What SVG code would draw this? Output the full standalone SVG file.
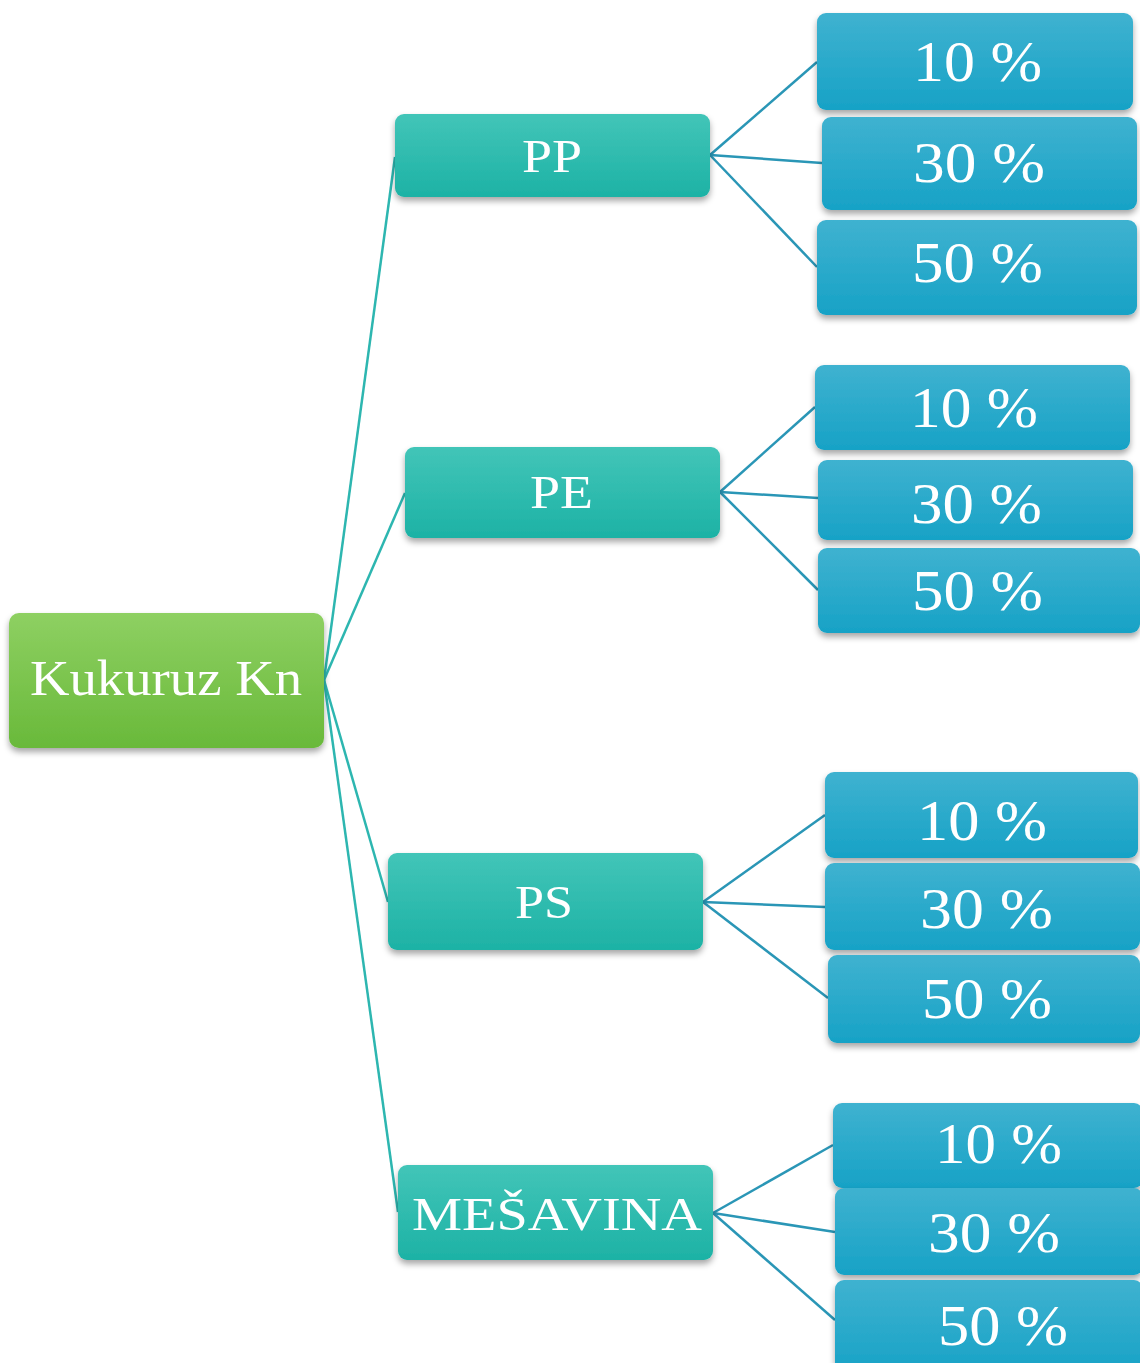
<svg xmlns="http://www.w3.org/2000/svg" width="1140" height="1363" viewBox="0 0 1140 1363">
<style>
.t{font-family:"Liberation Serif","Times New Roman",serif;fill:#ffffff;}
.root{font-size:50px;}
.mid{font-size:47px;}
.leaf{font-size:57px;}
.c1{stroke:#2db6b0;stroke-width:2.5;fill:none;}
.c2{stroke:#2a96b6;stroke-width:2.5;fill:none;}
</style>
<defs>
<linearGradient id="gGreen" x1="0" y1="0" x2="0" y2="1">
<stop offset="0" stop-color="#8ed062"/>
<stop offset="1" stop-color="#69b93a"/>
</linearGradient>
<linearGradient id="gTeal" x1="0" y1="0" x2="0" y2="1">
<stop offset="0" stop-color="#42c5b8"/>
<stop offset="1" stop-color="#1db2a5"/>
</linearGradient>
<linearGradient id="gBlue" x1="0" y1="0" x2="0" y2="1">
<stop offset="0" stop-color="#3fb2d0"/>
<stop offset="1" stop-color="#17a2c6"/>
</linearGradient>
<filter id="sh" x="-10%" y="-20%" width="120%" height="150%">
<feDropShadow dx="0" dy="4" stdDeviation="3" flood-color="#000" flood-opacity="0.35"/>
</filter>
</defs>
<rect width="1140" height="1363" fill="#ffffff"/>
<g id="connectors">
<line class="c1" x1="324" y1="680" x2="395" y2="157"/>
<line class="c1" x1="324" y1="680" x2="405" y2="493"/>
<line class="c1" x1="324" y1="680" x2="388" y2="902"/>
<line class="c1" x1="324" y1="680" x2="398" y2="1212"/>
<line class="c2" x1="710" y1="155" x2="817" y2="62"/>
<line class="c2" x1="710" y1="155" x2="822" y2="163"/>
<line class="c2" x1="710" y1="155" x2="817" y2="267"/>
<line class="c2" x1="720" y1="492" x2="815" y2="407"/>
<line class="c2" x1="720" y1="492" x2="818" y2="498"/>
<line class="c2" x1="720" y1="492" x2="818" y2="590"/>
<line class="c2" x1="703" y1="902" x2="825" y2="815"/>
<line class="c2" x1="703" y1="902" x2="825" y2="907"/>
<line class="c2" x1="703" y1="902" x2="828" y2="998"/>
<line class="c2" x1="713" y1="1213" x2="833" y2="1145"/>
<line class="c2" x1="713" y1="1213" x2="835" y2="1232"/>
<line class="c2" x1="713" y1="1213" x2="835" y2="1320"/>
</g>
<g id="root">
<rect x="9" y="613" width="315" height="135" rx="10" fill="url(#gGreen)" filter="url(#sh)"/>
<text class="t root" x="30" y="695" textLength="272" lengthAdjust="spacingAndGlyphs">Kukuruz Kn</text>
</g>
<g id="pp">
<rect x="395" y="114" width="315" height="83" rx="9" fill="url(#gTeal)" filter="url(#sh)"/>
<text class="t mid" x="522" y="172" textLength="60" lengthAdjust="spacingAndGlyphs">PP</text>
</g>
<g id="pe">
<rect x="405" y="447" width="315" height="91" rx="9" fill="url(#gTeal)" filter="url(#sh)"/>
<text class="t mid" x="530" y="508" textLength="63" lengthAdjust="spacingAndGlyphs">PE</text>
</g>
<g id="ps">
<rect x="388" y="853" width="315" height="97" rx="9" fill="url(#gTeal)" filter="url(#sh)"/>
<text class="t mid" x="515" y="918" textLength="58" lengthAdjust="spacingAndGlyphs">PS</text>
</g>
<g id="mesavina">
<rect x="398" y="1165" width="315" height="95" rx="9" fill="url(#gTeal)" filter="url(#sh)"/>
<text class="t mid" x="412" y="1230" font-size="50" textLength="290" lengthAdjust="spacingAndGlyphs">MEŠAVINA</text>
</g>
<g id="pp-10">
<rect x="817" y="13" width="316" height="97" rx="9" fill="url(#gBlue)" filter="url(#sh)"/>
<text class="t leaf" x="913" y="81" textLength="129" lengthAdjust="spacingAndGlyphs">10 %</text>
</g>
<g id="pp-30">
<rect x="822" y="117" width="315" height="93" rx="9" fill="url(#gBlue)" filter="url(#sh)"/>
<text class="t leaf" x="913" y="182" textLength="132" lengthAdjust="spacingAndGlyphs">30 %</text>
</g>
<g id="pp-50">
<rect x="817" y="220" width="320" height="95" rx="9" fill="url(#gBlue)" filter="url(#sh)"/>
<text class="t leaf" x="912" y="282" textLength="131" lengthAdjust="spacingAndGlyphs">50 %</text>
</g>
<g id="pe-10">
<rect x="815" y="365" width="315" height="85" rx="9" fill="url(#gBlue)" filter="url(#sh)"/>
<text class="t leaf" x="910" y="427" textLength="128" lengthAdjust="spacingAndGlyphs">10 %</text>
</g>
<g id="pe-30">
<rect x="818" y="460" width="315" height="80" rx="9" fill="url(#gBlue)" filter="url(#sh)"/>
<text class="t leaf" x="911" y="523" textLength="131" lengthAdjust="spacingAndGlyphs">30 %</text>
</g>
<g id="pe-50">
<rect x="818" y="548" width="322" height="85" rx="9" fill="url(#gBlue)" filter="url(#sh)"/>
<text class="t leaf" x="912" y="610" textLength="131" lengthAdjust="spacingAndGlyphs">50 %</text>
</g>
<g id="ps-10">
<rect x="825" y="772" width="313" height="86" rx="9" fill="url(#gBlue)" filter="url(#sh)"/>
<text class="t leaf" x="917" y="840" textLength="130" lengthAdjust="spacingAndGlyphs">10 %</text>
</g>
<g id="ps-30">
<rect x="825" y="863" width="315" height="87" rx="9" fill="url(#gBlue)" filter="url(#sh)"/>
<text class="t leaf" x="920" y="928" textLength="133" lengthAdjust="spacingAndGlyphs">30 %</text>
</g>
<g id="ps-50">
<rect x="828" y="955" width="312" height="88" rx="9" fill="url(#gBlue)" filter="url(#sh)"/>
<text class="t leaf" x="922" y="1018" textLength="130" lengthAdjust="spacingAndGlyphs">50 %</text>
</g>
<g id="mes-10">
<rect x="833" y="1103" width="310" height="85" rx="9" fill="url(#gBlue)" filter="url(#sh)"/>
<text class="t leaf" x="935" y="1163" textLength="127" lengthAdjust="spacingAndGlyphs">10 %</text>
</g>
<g id="mes-30">
<rect x="835" y="1188" width="308" height="87" rx="9" fill="url(#gBlue)" filter="url(#sh)"/>
<text class="t leaf" x="928" y="1252" textLength="132" lengthAdjust="spacingAndGlyphs">30 %</text>
</g>
<g id="mes-50">
<rect x="835" y="1280" width="308" height="95" rx="9" fill="url(#gBlue)" filter="url(#sh)"/>
<text class="t leaf" x="938" y="1345" textLength="130" lengthAdjust="spacingAndGlyphs">50 %</text>
</g>
</svg>
